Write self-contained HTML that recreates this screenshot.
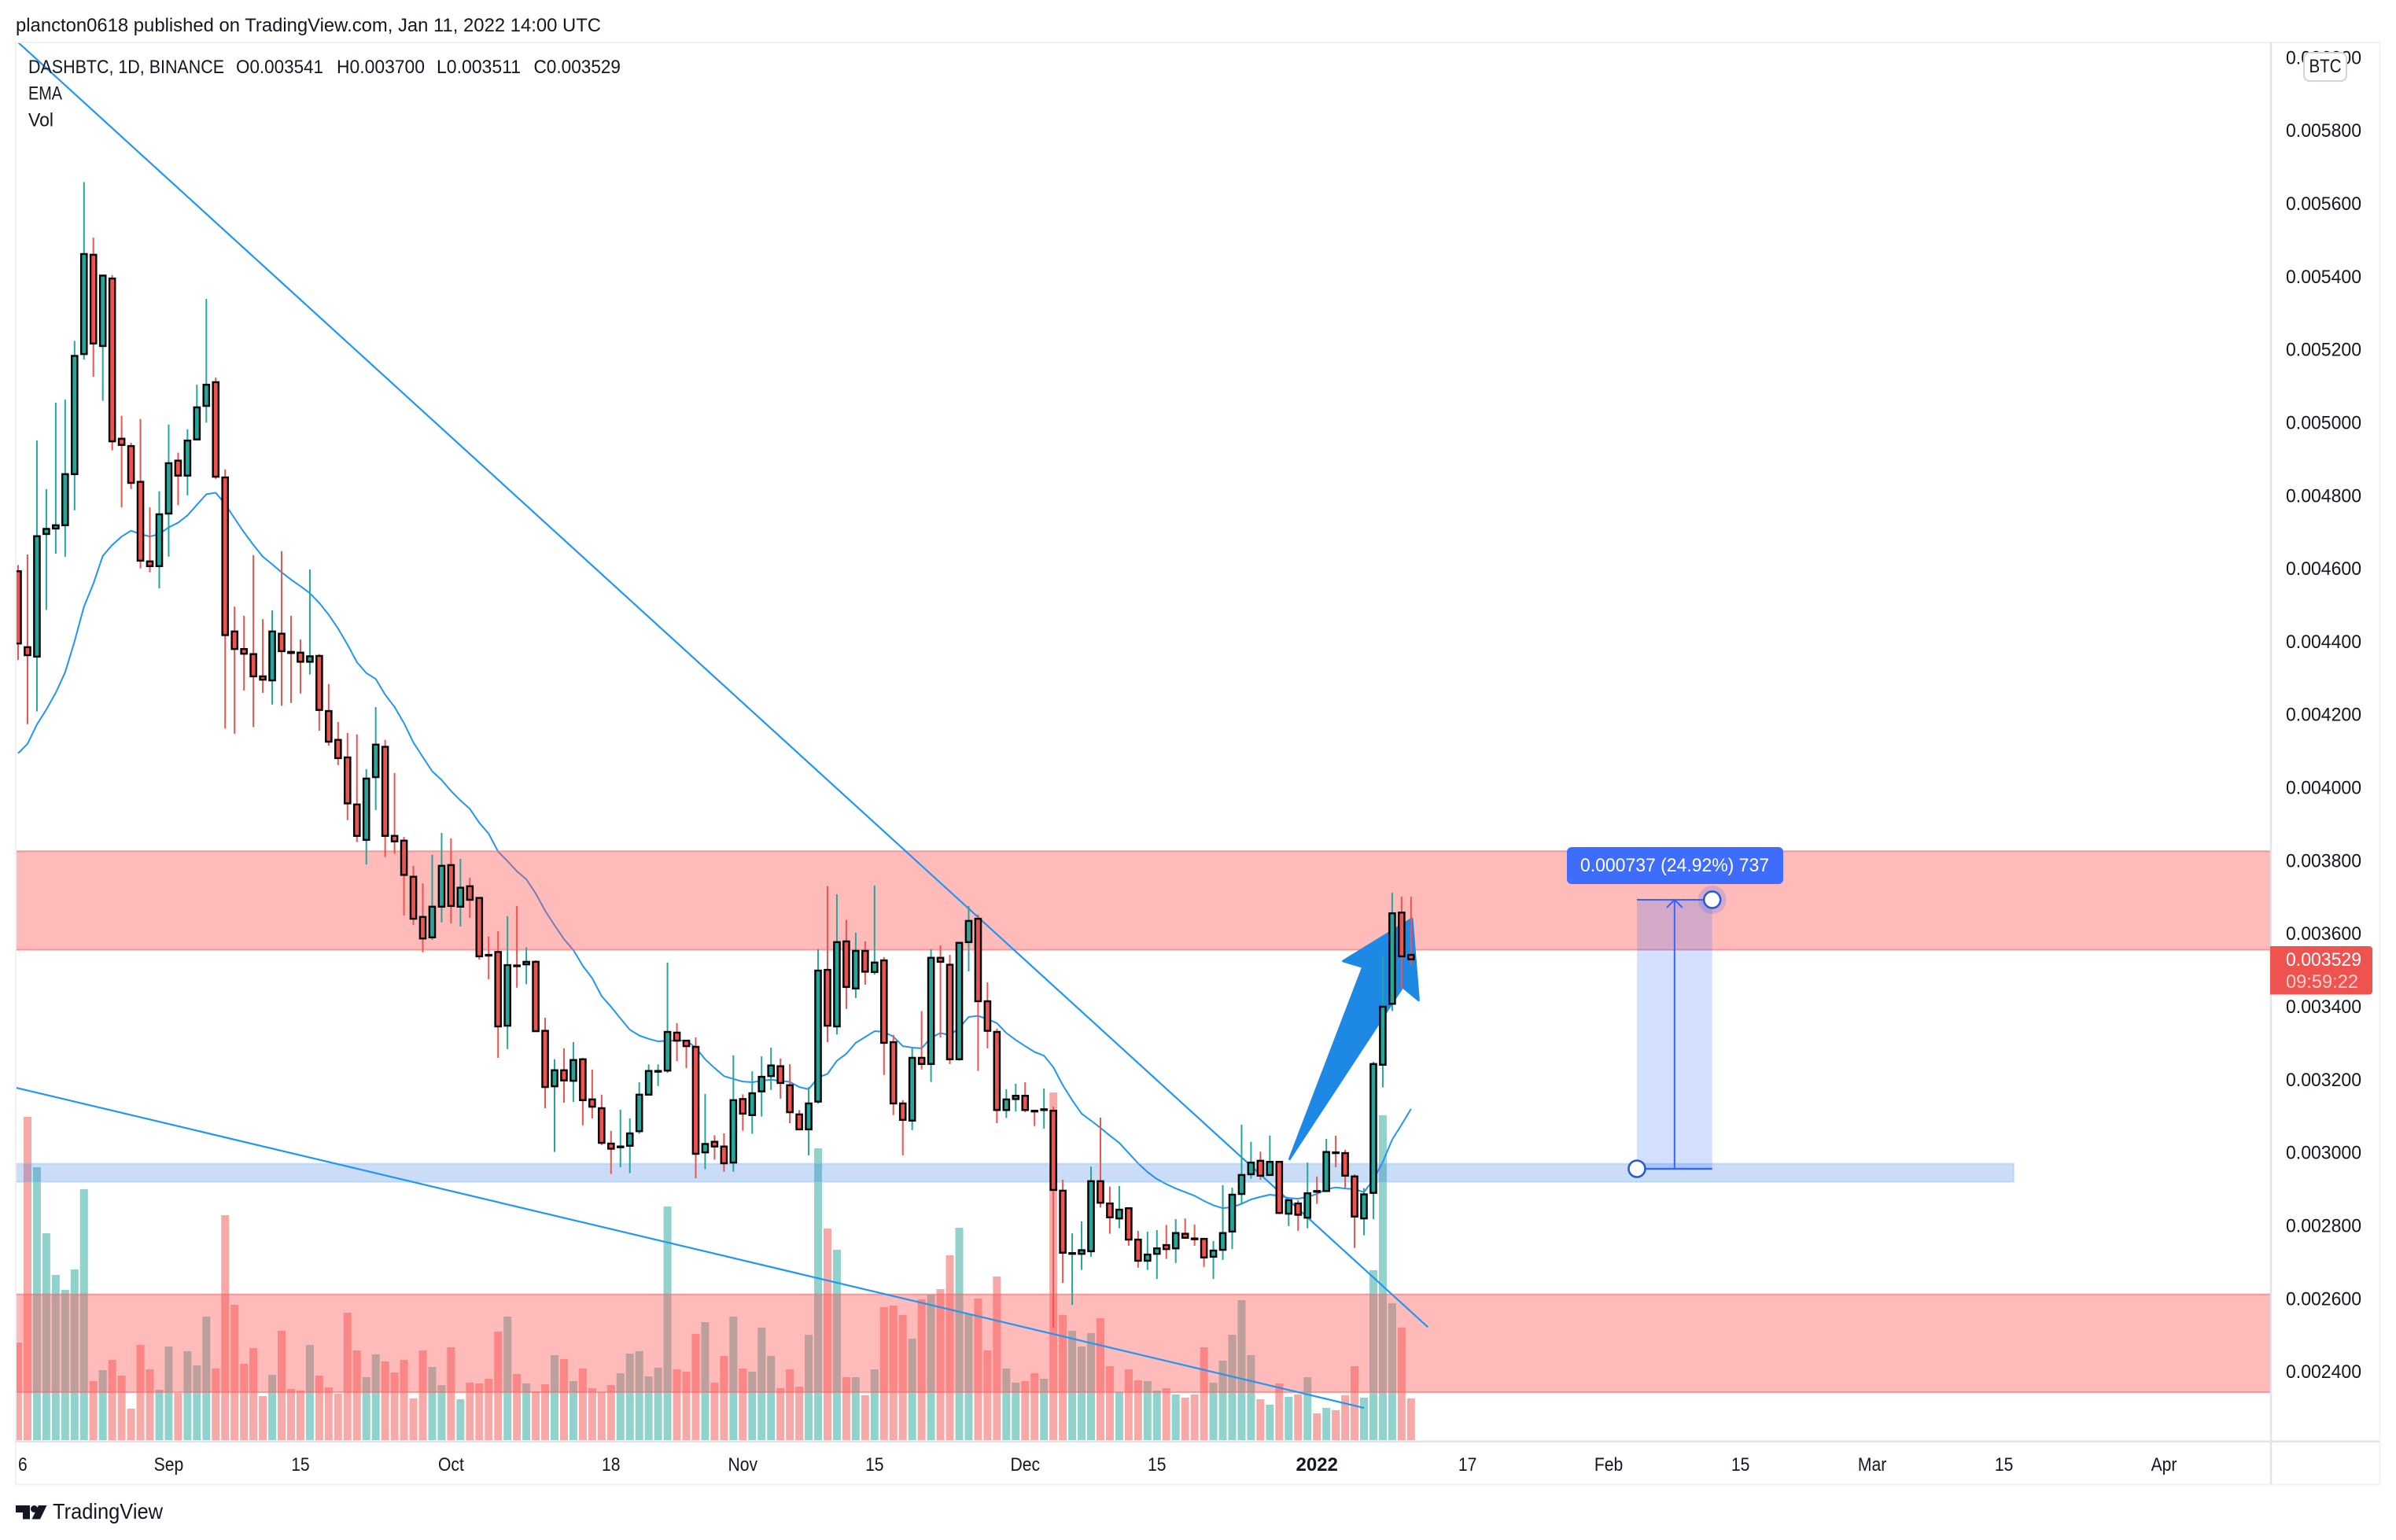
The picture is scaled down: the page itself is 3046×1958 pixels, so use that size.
<!DOCTYPE html>
<html lang="en">
<head>
<meta charset="utf-8">
<title>DASHBTC 1D chart</title>
<style>
html,body{margin:0;padding:0;background:#fff;width:3046px;height:1958px;overflow:hidden}
svg{display:block}
text{font-family:"Liberation Sans",sans-serif;fill:#131722}
</style>
</head>
<body>
<svg id="chart" xmlns="http://www.w3.org/2000/svg" width="3046" height="1958" viewBox="0 0 3046 1958">
  <defs>
    <clipPath id="plot-clip"><rect x="21" y="55" width="2865" height="1777"/></clipPath>
    <clipPath id="time-clip"><rect x="23.5" y="1834" width="2862" height="52"/></clipPath>
  </defs>
  <rect x="0" y="0" width="3046" height="1958" fill="#ffffff"/>
  <text x="20" y="40" font-size="24" textLength="744" lengthAdjust="spacingAndGlyphs">plancton0618 published on TradingView.com, Jan 11, 2022 14:00 UTC</text>
  <g id="plot" clip-path="url(#plot-clip)">
    <g id="volume-layer"></g>
    <g id="ema-layer"></g>
    <g id="band-layer"></g>
    <g id="trend-layer"></g>
    <g id="arrow-layer"></g>
    <g id="candle-layer"></g>
    <g id="measure-layer"></g>
  </g>
  <rect x="20" y="54" width="3005.5" height="1833.5" fill="none" stroke="#eff1f7" stroke-width="2"/>
  <line x1="2887" y1="54" x2="2887" y2="1887" stroke="#e0e3eb" stroke-width="2.5"/>
  <line x1="20" y1="1832.8" x2="3025" y2="1832.8" stroke="#e0e3eb" stroke-width="2.5"/>
  <g id="price-axis"></g>
  <g id="time-axis" clip-path="url(#time-clip)"></g>
  <g>
    <text x="36" y="93" font-size="24" textLength="249" lengthAdjust="spacingAndGlyphs">DASHBTC, 1D, BINANCE</text>
    <text x="300" y="93" font-size="24" textLength="111" lengthAdjust="spacingAndGlyphs">O0.003541</text>
    <text x="428" y="93" font-size="24" textLength="112" lengthAdjust="spacingAndGlyphs">H0.003700</text>
    <text x="555" y="93" font-size="24" textLength="107" lengthAdjust="spacingAndGlyphs">L0.003511</text>
    <text x="678.5" y="93" font-size="24" textLength="110.5" lengthAdjust="spacingAndGlyphs">C0.003529</text>
    <text x="36" y="126.5" font-size="24" textLength="43" lengthAdjust="spacingAndGlyphs">EMA</text>
    <text x="36" y="160.5" font-size="24" textLength="32" lengthAdjust="spacingAndGlyphs">Vol</text>
  </g>
  <g>
    <rect x="2929" y="67" width="54" height="36" rx="7" fill="#ffffff" stroke="#d1d4dc" stroke-width="2"/>
    <text x="2956" y="92" font-size="24" text-anchor="middle" textLength="41" lengthAdjust="spacingAndGlyphs">BTC</text>
  </g>
  <g>
    <path d="M2886 1203H3012a4 4 0 0 1 4 4V1260.5a4 4 0 0 1 -4 4H2886Z" fill="#ef5350"/>
    <text x="2906" y="1228" font-size="24" textLength="96" lengthAdjust="spacingAndGlyphs" style="fill:#ffffff">0.003529</text>
    <text x="2906" y="1256" font-size="24" textLength="92" lengthAdjust="spacingAndGlyphs" style="fill:#fbd0cf">09:59:22</text>
  </g>
  <g>
    <path d="M20 1914H38V1931.5H29V1923H20Z" fill="#131722"/>
    <circle cx="43.5" cy="1918.5" r="4.5" fill="#131722"/>
    <path d="M49 1914H59.5L51 1931.5H40.5Z" fill="#131722"/>
    <text x="67" y="1931" font-size="28" textLength="140" lengthAdjust="spacingAndGlyphs">TradingView</text>
  </g>
</svg>
<script>
// Prices are in millionths of a BTC. One entry per daily bar, first bar = 2021-08-16.
const opens = [
4592,4384,4358,4694,4709,4718,4858,5187,5459,5209,
5394,4955,4935,4837,4619,4606,4750,4895,4854,4953,
5045,5110,4849,4427,4379,4365,4304,4293,4421,4371,
4369,4344,4360,4209,4130,4082,3953,3856,4028,4111,
3867,3854,3755,3645,3589,3673,3787,3673,3729,3697,
3541,3549,3347,3512,3515,3522,3333,3181,3225,3196,
3255,3145,3121,3024,3014,3018,3058,3158,3221,3224,
3328,3306,3289,3000,3029,3016,2972,3146,3102,3167,
3209,3236,3184,3104,3063,3139,3500,3345,3578,3449,
3552,3494,3526,3302,3134,3087,3259,3242,3533,3514,
3255,3576,3640,3414,3330,3116,3146,3155,3114,3116,
3114,2895,2722,2722,2729,2921,2860,2819,2847,2761,
2703,2722,2746,2737,2777,2764,2763,2714,2733,2783,
2886,2940,2977,2938,2974,2832,2860,2821,2894,2894,
3000,2998,2934,2819,2889,3240,3407,3657,3541];
const highs = [
4609,4638,4950,4817,5054,5062,5223,5658,5506,5403,
5403,5018,4944,5009,4767,4811,4994,4917,4981,5103,
5338,5123,4871,4495,4470,4636,4461,4485,4647,4470,
4405,4597,4365,4283,4179,4149,4145,4050,4220,4130,
4039,3864,3785,3737,3815,3875,3860,3804,3752,3698,
3591,3606,3647,3675,3562,3526,3369,3255,3285,3302,
3259,3227,3158,3059,3117,3093,3192,3241,3241,3520,
3354,3308,3315,3160,3047,3052,3266,3159,3222,3263,
3287,3257,3242,3116,3179,3557,3729,3707,3637,3602,
3578,3731,3535,3322,3143,3285,3387,3557,3567,3541,
3576,3675,3651,3466,3339,3173,3188,3192,3114,3175,
3125,2925,2778,2811,2961,3095,2906,2908,2849,2785,
2783,2787,2801,2817,2819,2802,2764,2757,2910,2903,
3076,3029,3002,3046,2976,2872,2869,2972,2934,3037,
3046,3007,2940,2902,3248,3541,3711,3700,3700];
const lows = [
4349,4173,4208,4486,4640,4632,4759,5172,5125,5059,
4923,4767,4817,4600,4589,4545,4632,4773,4800,4952,
4999,4845,4161,4147,4265,4165,4259,4227,4223,4231,
4257,4309,4155,4114,4061,3910,3850,3789,3938,3809,
3818,3649,3623,3548,3582,3630,3627,3619,3643,3528,
3474,3259,3283,3451,3461,3330,3121,3001,3136,3138,
3074,3093,3020,2941,2959,2943,3051,3156,3182,3218,
3250,3231,2929,2954,2980,2947,2947,3059,3051,3098,
3171,3147,3080,3062,2992,3133,3302,3323,3393,3423,
3459,3487,3212,3102,2992,3061,3227,3193,3315,3242,
3251,3496,3223,3285,3080,3094,3112,3110,3072,3065,
2521,2642,2582,2678,2714,2849,2777,2792,2744,2684,
2678,2653,2708,2697,2765,2744,2686,2653,2705,2735,
2859,2928,2925,2936,2831,2798,2785,2792,2859,2893,
2959,2902,2738,2773,2817,3178,3387,3447,3511];
const closes = [
4394,4362,4688,4708,4718,4858,5182,5461,5216,5402,
4948,4938,4834,4621,4606,4748,4888,4854,4950,5041,
5103,4851,4417,4379,4366,4304,4295,4427,4373,4368,
4344,4359,4212,4125,4080,3956,3867,4024,4117,3867,
3852,3760,3640,3586,3673,3785,3675,3725,3692,3537,
3539,3345,3513,3510,3522,3332,3179,3225,3197,3253,
3143,3125,3026,3010,3016,3052,3158,3223,3223,3330,
3306,3291,2996,3023,3016,2970,3143,3106,3162,3207,
3238,3190,3110,3063,3134,3498,3347,3576,3453,3552,
3495,3520,3300,3134,3089,3259,3242,3533,3522,3255,
3574,3634,3414,3333,3116,3145,3155,3116,3112,3118,
2897,2725,2724,2732,2921,2862,2822,2843,2761,2703,
2720,2737,2735,2779,2766,2762,2712,2731,2779,2884,
2938,2972,2936,2974,2834,2869,2829,2888,2892,3001,
2998,2936,2824,2885,3242,3399,3655,3537,3529];
// EMA values, same units and same bars.
const emaValues = [
4093,4119,4172,4213,4259,4315,4400,4495,4558,4634,
4664,4687,4703,4694,4687,4694,4712,4725,4745,4774,
4803,4807,4776,4737,4699,4664,4632,4611,4589,4569,
4551,4532,4505,4473,4435,4391,4343,4313,4297,4254,
4220,4176,4123,4083,4044,4020,3990,3964,3941,3903,
3873,3824,3798,3770,3748,3709,3662,3622,3584,3554,
3511,3477,3428,3399,3367,3336,3320,3311,3304,3306,
3306,3306,3287,3255,3231,3209,3201,3194,3192,3196,
3199,3196,3193,3179,3173,3205,3215,3251,3270,3300,
3316,3332,3330,3317,3291,3287,3285,3314,3327,3321,
3341,3371,3374,3365,3354,3327,3308,3291,3275,3265,
3233,3184,3143,3106,3087,3067,3046,3026,2998,2970,
2946,2927,2913,2901,2891,2881,2867,2855,2847,2850,
2859,2871,2878,2884,2881,2875,2873,2878,2886,2899,
2904,2901,2899,2891,2925,2974,3035,3076,3119];
// Traded volume per bar (arbitrary units).
const volumes = [
124,411,347,263,210,191,217,319,75,89,
102,82,40,121,90,64,119,60,113,95,
157,91,286,172,97,117,56,83,139,65,
63,121,82,67,59,162,114,80,109,100,
86,102,53,114,93,70,118,52,73,72,
78,138,157,84,72,62,71,108,103,75,
91,66,61,70,85,110,113,81,92,297,
90,87,135,150,73,107,157,91,87,143,
107,66,90,68,134,371,269,242,80,80,
57,90,169,171,159,129,179,185,192,235,
270,160,180,114,208,91,73,75,85,78,
442,159,139,119,136,155,94,61,90,76,
75,63,66,58,54,58,118,73,101,134,
178,108,52,45,72,55,58,80,34,41,
38,57,94,54,216,413,174,143,53];
const priceTicks = [6000,5800,5600,5400,5200,5000,4800,4600,4400,4200,4000,3800,3600,3400,3200,3000,2800,2600,2400];
const timeTickBars = [0,16,30,46,63,77,91,107,121,138,154,169,183,197,211,228];
const timeTickLabels = ['16','Sep','15','Oct','18','Nov','15','Dec','15','2022','17','Feb','15','Mar','15','Apr'];
const boldTimeTicks = ['2022'];
// Zones: [upper price, lower price]
const upperResistance = [3825,3555];
const lowerResistance = [2611,2343];
const supportZone = [2969,2919];
const supportZoneEndBar = 212;
// Trend lines: bar index and price at each end
const fallingLineBars = [0,149.8];
const fallingLinePrices = [6041,2521];
const lowerLineBars = [-0.2,143];
const lowerLinePrices = [3177,2300];
// Price range tool
const measureBars = [172,180];
const measurePrices = [2955,3692];
const measureText = '0.000737 (24.92%) 737';
// Arrow drawing vertices as bar index and price: tail, inner notch, left barb, tip, right barb, right notch
const arrowBars = [135.1,142.9,140.8,148.1,148.8,147.1];
const arrowPrices = [2982,3508,3524,3640,3417,3453];

const SVG_NS = 'http://www.w3.org/2000/svg';
const xOf = i => 23 + 11.965 * i;
const yOf = p => 1743.6 - (p - 2400) / 200 * 92.82;
const VOLUME_BASE = 1831;
const yVol = v => VOLUME_BASE - v;
const UP = '#26a69a', DOWN = '#ef5350';

function make(tag, attrs, parent, text) {
  const el = document.createElementNS(SVG_NS, tag);
  Object.keys(attrs).forEach(k => el.setAttribute(k, attrs[k]));
  if (text !== undefined) el.textContent = text;
  parent.appendChild(el);
  return el;
}
const layer = id => document.getElementById(id);

// Volume bars
volumes.forEach((v, i) => {
  const up = closes[i] >= opens[i];
  const bar = make('rect', {x: xOf(i) - 5, y: yVol(v), width: 10, height: VOLUME_BASE - yVol(v), fill: up ? UP : DOWN, 'fill-opacity': 0.5}, layer('volume-layer'));
  
  
});

// EMA
const emaLine = make('polyline', {points: emaValues.map((p, i) => xOf(i) + ',' + yOf(p)).join(' '), fill: 'none', stroke: '#2196f3', 'stroke-width': 2, 'stroke-linejoin': 'round'}, layer('ema-layer'));



// Zones
function zone(range, right, fill, stroke) {
  return make('rect', {x: 10, y: yOf(range[0]), width: right - 10, height: yOf(range[1]) - yOf(range[0]), fill: fill, stroke: stroke, 'stroke-width': 2}, layer('band-layer'));
}
const zoneA = zone(upperResistance, 2900, 'rgba(255,82,82,0.4)', 'rgba(242,110,110,0.6)');


const zoneB = zone(lowerResistance, 2900, 'rgba(255,82,82,0.4)', 'rgba(242,110,110,0.6)');


const zoneC = zone(supportZone, xOf(supportZoneEndBar) + 0.4, 'rgba(47,115,223,0.25)', 'rgba(120,190,250,0.35)');



// Trend lines
function trend(bars, prices) {
  return make('line', {x1: xOf(bars[0]), y1: yOf(prices[0]), x2: xOf(bars[1]), y2: yOf(prices[1]), stroke: '#2196f3', 'stroke-width': 2.2}, layer('trend-layer'));
}
const fallingLine = trend(fallingLineBars, fallingLinePrices);


const lowerLine = trend(lowerLineBars, lowerLinePrices);



// Arrow
const arrow = make('polygon', {points: arrowBars.map((b, i) => xOf(b) + ',' + yOf(arrowPrices[i])).join(' '), fill: '#1e88e5', stroke: '#1e88e5', 'stroke-width': 3, 'stroke-linejoin': 'round'}, layer('arrow-layer'));



// Candles
opens.forEach((o, i) => {
  const c = closes[i], up = c >= o, color = up ? UP : DOWN, x = xOf(i);
  const wick = make('line', {x1: x, x2: x, y1: yOf(highs[i]), y2: yOf(lows[i]), stroke: color, 'stroke-width': 2}, layer('candle-layer'));
  
  
  const top = yOf(Math.max(o, c)), bottom = yOf(Math.min(o, c));
  const body = make('rect', {x: x - 3.6, y: top, width: 7.2, height: Math.max(bottom - top, 0.5), fill: color, stroke: '#000000', 'stroke-width': 2.4}, layer('candle-layer'));
  
  
});

// Price range tool
const mLayer = layer('measure-layer');
const mx0 = xOf(measureBars[0]), mx1 = xOf(measureBars[1]), mxC = (mx0 + mx1) / 2;
const my0 = yOf(measurePrices[0]), my1 = yOf(measurePrices[1]);
const mFill = make('rect', {x: mx0, y: my1, width: mx1 - mx0, height: my0 - my1, fill: 'rgba(41,98,255,0.2)'}, mLayer);


const mTop = make('line', {x1: mx0, x2: mx1, y1: my1, y2: my1, stroke: '#3366ff', 'stroke-width': 2}, mLayer);


const mBottom = make('line', {x1: mx0, x2: mx1, y1: my0, y2: my0, stroke: '#3366ff', 'stroke-width': 2.4}, mLayer);


const mShaft = make('line', {x1: mxC, x2: mxC, y1: my0, y2: my1, stroke: '#3366ff', 'stroke-width': 2}, mLayer);


const mHead = make('polyline', {points: (mxC - 10) + ',' + (my1 + 10) + ' ' + mxC + ',' + my1 + ' ' + (mxC + 10) + ',' + (my1 + 10), fill: 'none', stroke: '#3366ff', 'stroke-width': 2}, mLayer);


const mHalo = make('circle', {cx: mx1, cy: my1, r: 18, fill: 'rgba(41,98,255,0.2)'}, mLayer);


const mHandleA = make('circle', {cx: mx0, cy: my0, r: 10.5, fill: '#ffffff', stroke: '#2a5ad6', 'stroke-width': 2.6}, mLayer);


const mHandleB = make('circle', {cx: mx1, cy: my1, r: 10.5, fill: '#ffffff', stroke: '#2a5ad6', 'stroke-width': 2.6}, mLayer);


const mLabelBox = make('rect', {x: 1992, y: 1077, width: 275, height: 47, rx: 6, fill: '#3f6dfb'}, mLayer);


const mLabel = make('text', {x: 2009, y: 1108, 'font-size': 24, textLength: 240, lengthAdjust: 'spacingAndGlyphs', style: 'fill:#ffffff'}, mLayer, measureText);



// Axes
priceTicks.forEach(p => {
  const t = make('text', {x: 2906, y: yOf(p) + 8.5, 'font-size': 24, textLength: 96, lengthAdjust: 'spacingAndGlyphs'}, layer('price-axis'), (p / 1e6).toFixed(6));
  
  
});
timeTickLabels.forEach((label, k) => {
  const bold = boldTimeTicks.includes(label);
  const t = make('text', {x: xOf(timeTickBars[k]), y: 1870, 'font-size': 24, 'text-anchor': 'middle', 'font-weight': bold ? 'bold' : 'normal'}, layer('time-axis'), label);
  
  
  if (!bold) {
    t.setAttribute('textLength', t.getComputedTextLength() * 0.88);
    t.setAttribute('lengthAdjust', 'spacingAndGlyphs');
  }
});
</script>
</body>
</html>
